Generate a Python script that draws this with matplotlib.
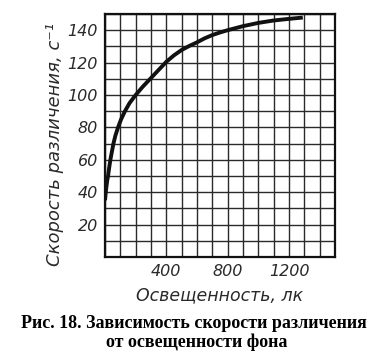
import matplotlib
matplotlib.use('Agg')
import matplotlib.pyplot as plt
from matplotlib.ticker import MultipleLocator

# illumination, lx
illum = [0, 5, 10, 15, 20, 27, 35, 45, 55, 68, 85, 105, 130, 160, 200,
         245, 295, 345, 400, 450, 500, 550, 600, 650, 700, 750, 800,
         900, 1000, 1100, 1200, 1290]
# discrimination speed, 1/s
speed = [35, 40, 44, 47.5, 50, 55, 60, 65, 70, 75, 80, 85, 90, 95, 100,
         105, 110, 115, 120.5, 124.5, 127.8, 130.3, 132.5, 135, 137,
         138.6, 140, 142.5, 144.5, 146, 147, 147.8]

xticks = [400, 800, 1200]
yticks = [20, 40, 60, 80, 100, 120, 140]

TICK_FONT = dict(family='DejaVu Sans', style='italic', color='#2a2a2a')

fig = plt.figure(figsize=(3.86, 3.58), dpi=100)
ax = fig.add_axes([105 / 386, 1 - 257 / 358, 230 / 386, 243 / 358])

ax.plot(illum, speed, '-', color='#111111', lw=2.8,
        solid_capstyle='butt', zorder=3)

ax.set_xlim(0, 1500)
ax.set_ylim(0, 150)
ax.xaxis.set_minor_locator(MultipleLocator(100))
ax.yaxis.set_minor_locator(MultipleLocator(10))
ax.set_xticks(xticks)
ax.set_yticks(yticks)
ax.grid(True, which='both', color='#2a2a2a', lw=1.0)
ax.tick_params(which='both', length=0, pad=5)
for spine in ax.spines.values():
    spine.set_linewidth(1.6)
    spine.set_color('#111111')

ax.set_xticklabels([str(v) for v in xticks], fontsize=11.5, **TICK_FONT)
ax.set_yticklabels([str(v) for v in yticks], fontsize=11.5, **TICK_FONT)

ax.set_xlabel('Освещенность, лк', fontsize=12.5, labelpad=5, **TICK_FONT)
ax.set_ylabel('Скорость различения, с⁻¹', fontsize=13, **TICK_FONT)
# sits a bit lower than the axes centre in the original
ax.yaxis.set_label_coords(-0.18, 0.465)

# figure caption
fig.text(194 / 386, 1 - 323 / 358, 'Рис. 18. Зависимость скорости различения',
         ha='center', va='center', fontsize=13, weight='bold',
         family='Liberation Serif')
fig.text(197 / 386, 1 - 342 / 358, 'от освещенности фона',
         ha='center', va='center', fontsize=13, weight='bold',
         family='Liberation Serif')

plt.savefig('out.png', dpi=100)
